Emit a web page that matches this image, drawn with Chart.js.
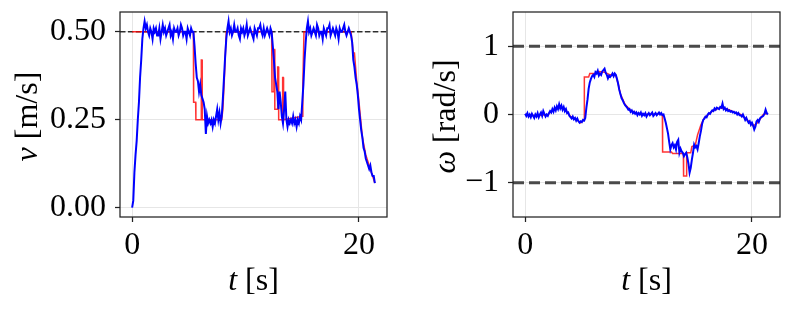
<!DOCTYPE html>
<html>
<head>
<meta charset="utf-8">
<script src="https://cdn.jsdelivr.net/npm/chart.js@4.4.1/dist/chart.umd.min.js"></script>
<style>
  html, body { margin: 0; padding: 0; background: #fff; }
  .panel { position: absolute; top: 0; height: 309px; }
  #leftBox { left: 0; width: 400px; }
  #rightBox { left: 400px; width: 393px; }
</style>
</head>
<body>
<div class="panel" id="leftBox"><canvas id="velChart"></canvas></div>
<div class="panel" id="rightBox"><canvas id="omegaChart"></canvas></div>
<script>
// sampling step of the measured signals [s]
const dt = 0.1;

const tTicks = [0, 20];
const vTicks = [0, 0.25, 0.5];
const wTicks = [-1, 0, 1];
const vRef = 0.5;
const wBounds = [-1, 1];

// measured linear velocity (blue), one row per second
const vMeas = [
  0.00, 0.02, 0.10, 0.15, 0.19, 0.25, 0.30, 0.37, 0.42, 0.48,
  0.51, 0.53, 0.51, 0.52, 0.50, 0.49, 0.51, 0.50, 0.48, 0.51,
  0.50, 0.51, 0.49, 0.49, 0.51, 0.48, 0.50, 0.52, 0.50, 0.51,
  0.49, 0.50, 0.51, 0.52, 0.49, 0.50, 0.48, 0.51, 0.50, 0.50,
  0.51, 0.49, 0.50, 0.52, 0.51, 0.49, 0.50, 0.50, 0.48, 0.51,
  0.50, 0.49, 0.51, 0.50, 0.50, 0.46, 0.41, 0.37, 0.36, 0.33,
  0.35, 0.32, 0.31, 0.30, 0.28, 0.21, 0.26, 0.24, 0.25, 0.24,
  0.25, 0.23, 0.25, 0.24, 0.26, 0.28, 0.25, 0.27, 0.24, 0.26,
  0.31, 0.37, 0.43, 0.48, 0.51, 0.53, 0.50, 0.51, 0.49, 0.50,
  0.52, 0.50, 0.50, 0.51, 0.49, 0.48, 0.51, 0.50, 0.51, 0.49,
  0.50, 0.52, 0.49, 0.50, 0.51, 0.50, 0.49, 0.48, 0.51, 0.50,
  0.49, 0.51, 0.51, 0.52, 0.50, 0.49, 0.51, 0.49, 0.50, 0.51,
  0.50, 0.49, 0.51, 0.50, 0.46, 0.42, 0.37, 0.35, 0.33, 0.28,
  0.33, 0.30, 0.26, 0.24, 0.28, 0.33, 0.25, 0.23, 0.25, 0.24,
  0.25, 0.24, 0.26, 0.24, 0.25, 0.23, 0.25, 0.24, 0.26, 0.25,
  0.30, 0.35, 0.42, 0.47, 0.51, 0.53, 0.50, 0.51, 0.49, 0.50,
  0.51, 0.50, 0.49, 0.52, 0.51, 0.49, 0.50, 0.50, 0.48, 0.51,
  0.50, 0.49, 0.51, 0.51, 0.52, 0.49, 0.50, 0.51, 0.50, 0.49,
  0.51, 0.50, 0.48, 0.51, 0.50, 0.50, 0.51, 0.52, 0.50, 0.49,
  0.50, 0.51, 0.50, 0.49, 0.47, 0.42, 0.40, 0.37, 0.35, 0.32,
  0.28, 0.25, 0.22, 0.20, 0.17, 0.16, 0.14, 0.13, 0.12, 0.11,
  0.12, 0.10, 0.09, 0.09, 0.07
];

// commanded linear velocity (red)
const vCmdT = [0, 5.4, 5.42, 5.6, 5.62, 6.08, 6.1, 6.16, 6.18, 7.9, 8.0, 8.15, 8.3,
  12.3, 12.33, 12.48, 12.5, 12.56, 12.58, 12.8, 12.83, 12.9, 12.92, 13.25, 13.27, 13.33, 13.35,
  15.0, 15.05, 15.15, 19.3, 19.5, 19.6, 19.8, 20.0, 20.3, 20.6, 21.0, 21.4];
const vCmd = [0.5, 0.5, 0.30, 0.30, 0.25, 0.25, 0.42, 0.42, 0.25, 0.25, 0.28, 0.38, 0.5,
  0.5, 0.33, 0.33, 0.45, 0.45, 0.28, 0.28, 0.40, 0.40, 0.25, 0.25, 0.37, 0.37, 0.25,
  0.26, 0.35, 0.5, 0.5, 0.44, 0.44, 0.36, 0.30, 0.20, 0.15, 0.11, 0.07];

// measured angular velocity (blue)
const wMeas = [
  0.01, -0.02, 0.02, -0.03, 0.00, -0.04, 0.01, -0.02, -0.05, 0.00,
  -0.03, 0.02, -0.04, 0.00, 0.03, -0.02, 0.05, 0.01, -0.03, 0.00,
  -0.02, 0.02, 0.05, 0.03, 0.08, 0.04, 0.10, 0.06, 0.12, 0.08,
  0.15, 0.09, 0.13, 0.07, 0.11, 0.05, 0.08, 0.02, 0.03, -0.02,
  -0.04, -0.06, -0.03, -0.07, -0.05, -0.09, -0.06, -0.10, -0.12, -0.10,
  -0.11, -0.08, -0.09, -0.05, 0.10, 0.22, 0.38, 0.47, 0.52, 0.56,
  0.58, 0.55, 0.62, 0.60, 0.64, 0.57, 0.60, 0.58, 0.63, 0.65,
  0.67, 0.61, 0.58, 0.53, 0.57, 0.55, 0.57, 0.60, 0.56, 0.60,
  0.58, 0.52, 0.45, 0.36, 0.30, 0.24, 0.21, 0.17, 0.14, 0.12,
  0.10, 0.07, 0.08, 0.04, 0.06, 0.02, 0.04, 0.01, 0.03, -0.01,
  0.02, 0.00, 0.03, -0.02, 0.01, -0.01, 0.02, -0.03, 0.00, 0.02,
  -0.01, 0.01, 0.03, -0.02, 0.00, 0.02, -0.01, 0.01, 0.03, 0.00,
  0.02, -0.01, 0.00, -0.06, -0.12, -0.20, -0.28, -0.40, -0.51, -0.45,
  -0.42, -0.48, -0.45, -0.51, -0.40, -0.37, -0.56, -0.50, -0.54, -0.56,
  -0.61, -0.58, -0.56, -0.63, -0.72, -0.85, -0.78, -0.66, -0.56, -0.44,
  -0.48, -0.46, -0.51, -0.42, -0.32, -0.24, -0.14, -0.08, -0.06, -0.03,
  -0.04, 0.00, 0.02, 0.01, 0.04, 0.06, 0.05, 0.09, 0.07, 0.10,
  0.09, 0.08, 0.11, 0.10, 0.16, 0.08, 0.10, 0.06, 0.08, 0.05,
  0.06, 0.04, 0.05, 0.03, 0.04, 0.02, 0.03, 0.00, 0.02, -0.01,
  -0.01, -0.03, 0.00, -0.04, -0.08, -0.05, -0.09, -0.12, -0.10, -0.15,
  -0.12, -0.16, -0.22, -0.18, -0.10, -0.08, -0.11, -0.06, -0.04, -0.03,
  -0.02, 0.01, 0.07, 0.02, 0.00
];

// commanded angular velocity (red)
const wCmdT = [0, 1.0, 2.0, 2.5, 3.0, 3.5, 4.0, 4.5, 4.9, 5.2, 5.22, 5.6, 5.7, 6.2, 6.5, 7.0, 7.5,
  8.0, 8.2, 8.4, 8.8, 9.3, 10, 11, 12, 12.1, 12.12, 12.9, 13.0, 13.95, 13.97, 14.22, 14.24,
  14.6, 14.7, 15.0, 15.2, 15.5, 15.8, 16.5, 17.2, 17.8, 18.5, 19, 19.6, 20.1, 20.5, 21, 21.4];
const wCmd = [0.00, -0.02, 0.00, 0.07, 0.10, 0.08, -0.03, -0.07, -0.12, -0.08, 0.55, 0.55, 0.60, 0.60, 0.63, 0.62, 0.58,
  0.57, 0.45, 0.30, 0.15, 0.06, 0.01, 0.00, 0.01, -0.02, -0.55, -0.55, -0.57, -0.57, -0.90, -0.90, -0.56,
  -0.56, -0.47, -0.45, -0.30, -0.15, -0.05, 0.05, 0.10, 0.08, 0.03, 0.00, -0.08, -0.17, -0.12, 0.00, 0.02];

const xMin = -1.07, xMax = 22.47;

const serif = '"Liberation Serif", "Times New Roman", serif';

function series(vals) {
    return vals.map((y, i) => ({ x: +(i * dt).toFixed(2), y: y }));
}
function pairs(ts, vals) {
    return ts.map((t, i) => ({ x: t, y: vals[i] }));
}

// full box round the plot area
const framePlugin = {
    id: 'frame',
    afterDraw(chart) {
        const a = chart.chartArea, ctx = chart.ctx;
        ctx.save();
        ctx.strokeStyle = '#222';
        ctx.lineWidth = 1.25;
        ctx.strokeRect(a.left, a.top, a.right - a.left, a.bottom - a.top);
        ctx.restore();
    }
};

// axis titles with an italic symbol followed by upright units
function drawParts(ctx, parts) {
    let total = 0;
    parts.forEach(p => {
        ctx.font = (p.italic ? 'italic ' : '') + '32px ' + serif;
        p.w = ctx.measureText(p.text).width;
        total += p.w;
    });
    let x = -total / 2;
    parts.forEach(p => {
        ctx.font = (p.italic ? 'italic ' : '') + '32px ' + serif;
        ctx.fillText(p.text, x, 0);
        x += p.w;
    });
}
const titlePlugin = {
    id: 'axisTitles',
    afterDraw(chart, args, opts) {
        const a = chart.chartArea, ctx = chart.ctx;
        ctx.save();
        ctx.fillStyle = '#000';
        ctx.textBaseline = 'alphabetic';
        ctx.textAlign = 'left';
        ctx.save();
        ctx.translate((a.left + a.right) / 2, a.bottom + 73);
        drawParts(ctx, opts.x);
        ctx.restore();
        ctx.save();
        ctx.translate(opts.yBase, (a.top + a.bottom) / 2 + 2);
        ctx.rotate(-Math.PI / 2);
        drawParts(ctx, opts.y);
        ctx.restore();
        ctx.restore();
    }
};

function makeChart(id, cfg) {
    const tickFont = { family: serif, size: 32 };
    return new Chart(document.getElementById(id), {
        type: 'line',
        data: { datasets: cfg.datasets },
        options: {
            responsive: true,
            maintainAspectRatio: false,
            animation: false,
            events: [],
            layout: { padding: { top: 12, right: cfg.padRight, left: 0, bottom: 0 } },
            elements: { point: { radius: 0 }, line: { tension: 0 } },
            scales: {
                x: {
                    type: 'linear',
                    min: xMin,
                    max: xMax,
                    afterBuildTicks: s => { s.ticks = tTicks.map(v => ({ value: v })); },
                    afterFit: s => { s.height = 92; s.paddingLeft = 0; s.paddingRight = 0; },
                    border: { display: false },
                    grid: { color: '#e6e6e6', lineWidth: 1, tickLength: 5, tickColor: '#222', tickWidth: 1.25 },
                    ticks: { font: tickFont, color: '#000', padding: 4, maxRotation: 0, autoSkip: false,
                             callback: v => String(v) }
                },
                y: {
                    type: 'linear',
                    min: cfg.yMin,
                    max: cfg.yMax,
                    afterBuildTicks: s => { s.ticks = cfg.yTicks.map(v => ({ value: v })); },
                    afterFit: s => { s.width = cfg.yWidth; s.paddingTop = 0; s.paddingBottom = 0; },
                    border: { display: false },
                    grid: { color: '#e6e6e6', lineWidth: 1, tickLength: 5, tickColor: '#222', tickWidth: 1.25 },
                    ticks: { font: tickFont, color: '#000', padding: 9, autoSkip: false, callback: cfg.fmt }
                }
            },
            plugins: {
                legend: { display: false },
                tooltip: { enabled: false },
                axisTitles: cfg.titles
            }
        },
        plugins: [framePlugin, titlePlugin]
    });
}

makeChart('velChart', {
    padRight: 13,
    yWidth: 120,
    yMin: -0.0265,
    yMax: 0.5565,
    yTicks: vTicks,
    fmt: v => v.toFixed(2),
    titles: {
        x: [{ text: 't', italic: true }, { text: ' [s]' }],
        y: [{ text: 'v', italic: true }, { text: ' [m/s]' }],
        yBase: 37
    },
    datasets: [
        { label: 'measured', data: series(vMeas), borderColor: '#0000ff', borderWidth: 2 },
        { label: 'command', data: pairs(vCmdT, vCmd), borderColor: 'rgba(255,0,0,0.8)', borderWidth: 1.5 },
        { label: 'reference', data: [{ x: xMin, y: vRef }, { x: xMax, y: vRef }],
          borderColor: 'rgba(0,0,0,0.8)', borderWidth: 1.5, borderDash: [5.5, 2.4] }
    ]
});

makeChart('omegaChart', {
    padRight: 13,
    yWidth: 113,
    yMin: -1.5,
    yMax: 1.5,
    yTicks: wTicks,
    fmt: v => (v < 0 ? '\u2212' + Math.abs(v) : String(v)),
    titles: {
        x: [{ text: 't', italic: true }, { text: ' [s]' }],
        y: [{ text: '\u03c9', italic: true }, { text: ' [rad/s]' }],
        yBase: 55
    },
    datasets: [
        { label: 'measured', data: series(wMeas), borderColor: '#0000ff', borderWidth: 2 },
        { label: 'command', data: pairs(wCmdT, wCmd), borderColor: 'rgba(255,0,0,0.8)', borderWidth: 1.5 },
        { label: 'upper', data: [{ x: xMin, y: wBounds[1] }, { x: xMax, y: wBounds[1] }],
          borderColor: '#4a4a4a', borderWidth: 3, borderDash: [11, 5] },
        { label: 'lower', data: [{ x: xMin, y: wBounds[0] }, { x: xMax, y: wBounds[0] }],
          borderColor: '#4a4a4a', borderWidth: 3, borderDash: [11, 5] }
    ]
});
</script>
</body>
</html>
